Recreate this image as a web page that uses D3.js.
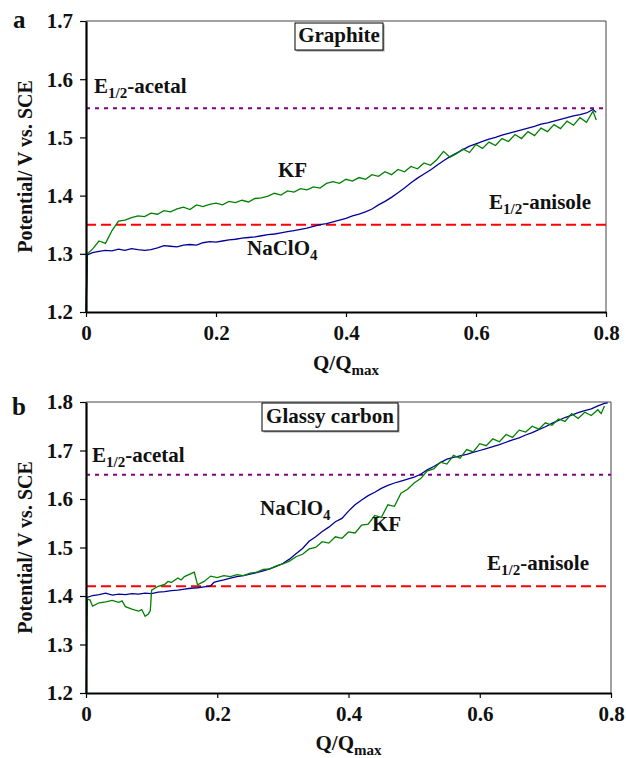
<!DOCTYPE html>
<html>
<head>
<meta charset="utf-8">
<script src="https://cdn.jsdelivr.net/npm/d3@7"></script>
<style>
  body { margin: 0; background: #fff; }
  svg text { font-family: "Liberation Serif", "DejaVu Serif", serif; font-weight: bold; fill: #111; }
</style>
</head>
<body>
<svg id="chart" width="626" height="758"></svg>
<script>
// Données : [Q/Qmax, potentiel (V vs. SCE)]
const qTicks = [0, 0.2, 0.4, 0.6, 0.8];
const yTicksGraphite = [1.2, 1.3, 1.4, 1.5, 1.6, 1.7];
const yTicksGlassy = [1.2, 1.3, 1.4, 1.5, 1.6, 1.7, 1.8];

// Potentiels de demi-vague
const e12Graphite = { acetal: 1.55, anisole: 1.35 };
const e12Glassy = { acetal: 1.65, anisole: 1.42 };

const naclo4Graphite = [[0,1.200],[0.002,1.298],[0.01,1.302],[0.02,1.304],[0.03,1.306],[0.04,1.305],[0.05,1.308],[0.06,1.306],[0.07,1.309],[0.08,1.307],[0.09,1.306],[0.10,1.307],[0.11,1.310],[0.12,1.314],[0.13,1.313],[0.14,1.312],[0.15,1.315],[0.16,1.316],[0.17,1.315],[0.18,1.319],[0.19,1.321],[0.20,1.320],[0.21,1.322],[0.22,1.324],[0.23,1.325],[0.24,1.327],[0.25,1.328],[0.26,1.329],[0.27,1.331],[0.28,1.333],[0.29,1.334],[0.30,1.336],[0.31,1.338],[0.32,1.340],[0.33,1.342],[0.34,1.344],[0.35,1.347],[0.36,1.350],[0.37,1.352],[0.38,1.355],[0.39,1.358],[0.40,1.361],[0.41,1.365],[0.42,1.368],[0.43,1.372],[0.44,1.377],[0.45,1.384],[0.46,1.390],[0.47,1.397],[0.48,1.405],[0.49,1.413],[0.50,1.422],[0.51,1.430],[0.52,1.437],[0.53,1.444],[0.54,1.452],[0.55,1.460],[0.56,1.467],[0.57,1.473],[0.58,1.479],[0.59,1.485],[0.60,1.489],[0.61,1.493],[0.62,1.497],[0.63,1.500],[0.64,1.504],[0.65,1.507],[0.66,1.510],[0.67,1.513],[0.68,1.516],[0.69,1.519],[0.70,1.523],[0.71,1.525],[0.72,1.528],[0.73,1.531],[0.74,1.534],[0.75,1.537],[0.76,1.539],[0.77,1.542],[0.78,1.548],[0.785,1.543]];

const kfGraphite = [[0,1.200],[0.002,1.300],[0.01,1.308],[0.02,1.322],[0.03,1.318],[0.04,1.340],[0.05,1.356],[0.06,1.358],[0.07,1.362],[0.08,1.365],[0.09,1.364],[0.10,1.370],[0.11,1.368],[0.12,1.374],[0.13,1.372],[0.14,1.377],[0.15,1.380],[0.16,1.376],[0.17,1.384],[0.18,1.381],[0.19,1.385],[0.20,1.387],[0.21,1.384],[0.22,1.390],[0.23,1.388],[0.24,1.392],[0.25,1.389],[0.26,1.395],[0.27,1.396],[0.28,1.399],[0.29,1.404],[0.30,1.401],[0.31,1.408],[0.32,1.406],[0.33,1.412],[0.34,1.410],[0.35,1.415],[0.36,1.413],[0.37,1.421],[0.38,1.424],[0.39,1.421],[0.40,1.428],[0.41,1.425],[0.42,1.431],[0.43,1.428],[0.44,1.436],[0.45,1.433],[0.46,1.441],[0.47,1.436],[0.48,1.445],[0.49,1.441],[0.50,1.450],[0.51,1.446],[0.52,1.456],[0.53,1.452],[0.54,1.462],[0.55,1.476],[0.56,1.466],[0.57,1.472],[0.58,1.480],[0.59,1.474],[0.60,1.488],[0.61,1.481],[0.62,1.492],[0.63,1.486],[0.64,1.498],[0.65,1.493],[0.66,1.505],[0.67,1.498],[0.68,1.510],[0.69,1.503],[0.70,1.516],[0.71,1.510],[0.72,1.522],[0.73,1.515],[0.74,1.528],[0.75,1.521],[0.76,1.534],[0.77,1.526],[0.78,1.545],[0.785,1.530]];

const naclo4Glassy = [[0,1.396],[0.01,1.401],[0.02,1.403],[0.03,1.406],[0.04,1.402],[0.05,1.404],[0.06,1.403],[0.07,1.405],[0.08,1.404],[0.09,1.406],[0.10,1.405],[0.11,1.408],[0.12,1.409],[0.13,1.411],[0.14,1.412],[0.15,1.414],[0.16,1.416],[0.17,1.417],[0.18,1.419],[0.19,1.421],[0.195,1.428],[0.20,1.430],[0.21,1.433],[0.22,1.437],[0.23,1.440],[0.24,1.442],[0.25,1.445],[0.26,1.448],[0.27,1.452],[0.28,1.456],[0.29,1.461],[0.30,1.467],[0.31,1.476],[0.32,1.487],[0.33,1.498],[0.34,1.513],[0.35,1.522],[0.36,1.533],[0.37,1.542],[0.38,1.553],[0.39,1.560],[0.40,1.575],[0.41,1.588],[0.42,1.598],[0.43,1.607],[0.44,1.614],[0.45,1.622],[0.46,1.628],[0.47,1.633],[0.48,1.637],[0.49,1.641],[0.50,1.645],[0.51,1.651],[0.52,1.660],[0.53,1.667],[0.54,1.675],[0.55,1.682],[0.56,1.686],[0.57,1.689],[0.58,1.692],[0.59,1.696],[0.60,1.700],[0.61,1.704],[0.62,1.708],[0.63,1.712],[0.64,1.717],[0.65,1.722],[0.66,1.726],[0.67,1.732],[0.68,1.737],[0.69,1.743],[0.70,1.749],[0.71,1.756],[0.72,1.762],[0.73,1.768],[0.74,1.773],[0.75,1.778],[0.76,1.782],[0.77,1.786],[0.78,1.792],[0.79,1.797],[0.795,1.798]];

const kfGlassy = [[0,1.200],[0.002,1.393],[0.006,1.392],[0.01,1.379],[0.02,1.386],[0.03,1.388],[0.04,1.391],[0.05,1.387],[0.055,1.390],[0.06,1.378],[0.07,1.373],[0.08,1.369],[0.085,1.372],[0.09,1.358],[0.095,1.363],[0.098,1.370],[0.10,1.412],[0.11,1.420],[0.12,1.424],[0.125,1.430],[0.13,1.428],[0.14,1.437],[0.145,1.433],[0.15,1.440],[0.16,1.446],[0.165,1.449],[0.17,1.423],[0.18,1.430],[0.19,1.441],[0.20,1.438],[0.21,1.442],[0.22,1.440],[0.23,1.444],[0.24,1.442],[0.25,1.447],[0.26,1.449],[0.27,1.455],[0.28,1.456],[0.29,1.462],[0.30,1.466],[0.31,1.472],[0.32,1.481],[0.33,1.486],[0.34,1.497],[0.35,1.500],[0.36,1.512],[0.37,1.509],[0.38,1.522],[0.39,1.519],[0.40,1.532],[0.41,1.530],[0.42,1.546],[0.43,1.548],[0.44,1.566],[0.45,1.562],[0.46,1.588],[0.47,1.585],[0.48,1.612],[0.49,1.620],[0.50,1.633],[0.51,1.642],[0.52,1.658],[0.53,1.662],[0.54,1.676],[0.55,1.672],[0.56,1.690],[0.57,1.684],[0.58,1.702],[0.59,1.697],[0.60,1.714],[0.61,1.710],[0.62,1.724],[0.63,1.718],[0.64,1.733],[0.65,1.727],[0.66,1.742],[0.67,1.738],[0.68,1.750],[0.69,1.744],[0.70,1.757],[0.71,1.752],[0.72,1.765],[0.73,1.760],[0.74,1.776],[0.75,1.766],[0.76,1.779],[0.77,1.772],[0.78,1.784],[0.785,1.776],[0.79,1.792]];

const svg = d3.select("#chart");

// Mise en page des deux panneaux
const panels = [
  {
    letter: "a", title: "Graphite",
    left: 86, right: 606, top: 21, bottom: 312,
    yTicks: yTicksGraphite, e12: e12Graphite,
    naclo4: naclo4Graphite, kf: kfGraphite,
    box: { x: 295, y: 23, w: 88, h: 27 },
    letterPos: [13, 28],
    acetalPos: [94, 93], anisolePos: [489, 209],
    kfPos: [278, 177], naclo4Pos: [247, 255],
    xTitleY: 370
  },
  {
    letter: "b", title: "Glassy carbon",
    left: 86, right: 611, top: 402, bottom: 693,
    yTicks: yTicksGlassy, e12: e12Glassy,
    naclo4: naclo4Glassy, kf: kfGlassy,
    box: { x: 262, y: 403, w: 136, h: 28 },
    letterPos: [12, 415],
    acetalPos: [92, 462], anisolePos: [487, 570],
    kfPos: [372, 531], naclo4Pos: [260, 515],
    xTitleY: 750
  }
];

const fs = 21;

// Texte avec indice (ex. E1/2, ClO4, Qmax)
function subText(g, x, y, parts) {
  const t = g.append("text").attr("x", x).attr("y", y).attr("font-size", fs);
  parts.forEach(p => {
    const s = t.append("tspan").text(p.t);
    if (p.sub) s.attr("font-size", 15).attr("dy", 5);
    else if (p.after) s.attr("dy", -5);
  });
  return t;
}

panels.forEach(p => {
  const g = svg.append("g");
  const x = d3.scaleLinear().domain([0, 0.8]).range([p.left, p.right]);
  const y = d3.scaleLinear().domain([p.yTicks[0], p.yTicks[p.yTicks.length - 1]]).range([p.bottom, p.top]);

  // Cadre fin en haut et à droite
  g.append("line").attr("x1", p.left).attr("x2", p.right).attr("y1", p.top).attr("y2", p.top)
    .attr("stroke", "#444").attr("stroke-width", 1);
  g.append("line").attr("x1", p.right).attr("x2", p.right).attr("y1", p.top).attr("y2", p.bottom)
    .attr("stroke", "#444").attr("stroke-width", 1);

  // Lignes des potentiels de demi-vague
  g.append("line").attr("x1", p.left).attr("x2", p.right)
    .attr("y1", y(p.e12.acetal)).attr("y2", y(p.e12.acetal))
    .attr("stroke", "#800080").attr("stroke-width", 2).attr("stroke-dasharray", "4,5");
  g.append("line").attr("x1", p.left).attr("x2", p.right)
    .attr("y1", y(p.e12.anisole)).attr("y2", y(p.e12.anisole))
    .attr("stroke", "#ff0000").attr("stroke-width", 2).attr("stroke-dasharray", "10,5");

  // Courbes
  const line = d3.line().x(d => x(d[0])).y(d => y(d[1]));
  g.append("path").datum(p.naclo4).attr("d", line)
    .attr("fill", "none").attr("stroke", "#000099").attr("stroke-width", 1.3);
  g.append("path").datum(p.kf).attr("d", line)
    .attr("fill", "none").attr("stroke", "#008000").attr("stroke-width", 1.3);

  // Axes
  const yAxis = g.append("g").attr("transform", `translate(${p.left},0)`)
    .call(d3.axisLeft(y).tickValues(p.yTicks).tickFormat(d3.format(".1f")).tickSize(6).tickSizeOuter(0));
  const xAxis = g.append("g").attr("transform", `translate(0,${p.bottom})`)
    .call(d3.axisBottom(x).tickValues(qTicks).tickFormat(d => d === 0 ? "0" : d3.format(".1f")(d)).tickSize(5).tickSizeOuter(0));
  [xAxis, yAxis].forEach(a => {
    a.select(".domain").attr("stroke", "#000").attr("stroke-width", 2.2);
    a.selectAll(".tick line").attr("stroke", "#000").attr("stroke-width", 1.2);
    a.selectAll("text").attr("font-size", fs).attr("fill", "#111")
      .attr("font-family", null);
  });
  yAxis.selectAll("text").attr("x", -13).attr("dy", "0.33em");
  xAxis.selectAll("text").attr("y", 13).attr("dy", "0.71em");

  // Boîte du titre
  g.append("rect").attr("x", p.box.x + 1.5).attr("y", p.box.y + 1.5)
    .attr("width", p.box.w).attr("height", p.box.h).attr("fill", "#999");
  g.append("rect").attr("x", p.box.x).attr("y", p.box.y)
    .attr("width", p.box.w).attr("height", p.box.h)
    .attr("fill", "#fff").attr("stroke", "#000").attr("stroke-width", 1);
  g.append("text").attr("x", p.box.x + p.box.w / 2).attr("y", p.box.y + p.box.h - 8)
    .attr("text-anchor", "middle").attr("font-size", fs).text(p.title);

  // Lettre du panneau
  g.append("text").attr("x", p.letterPos[0]).attr("y", p.letterPos[1])
    .attr("font-size", 25).text(p.letter);

  // Étiquettes
  subText(g, p.acetalPos[0], p.acetalPos[1], [{ t: "E" }, { t: "1/2", sub: true }, { t: "-acetal", after: true }]);
  subText(g, p.anisolePos[0], p.anisolePos[1], [{ t: "E" }, { t: "1/2", sub: true }, { t: "-anisole", after: true }]);
  subText(g, p.kfPos[0], p.kfPos[1], [{ t: "KF" }]);
  subText(g, p.naclo4Pos[0], p.naclo4Pos[1], [{ t: "NaClO" }, { t: "4", sub: true }]);

  // Titres des axes
  const xt = subText(g, (p.left + p.right) / 2, p.xTitleY, [{ t: "Q/Q" }, { t: "max", sub: true }]);
  xt.attr("text-anchor", "middle");
  g.append("text")
    .attr("transform", `translate(32,${(p.top + p.bottom) / 2}) rotate(-90)`)
    .attr("text-anchor", "middle").attr("font-size", 20)
    .text("Potential/ V vs. SCE");
});
</script>
</body>
</html>
